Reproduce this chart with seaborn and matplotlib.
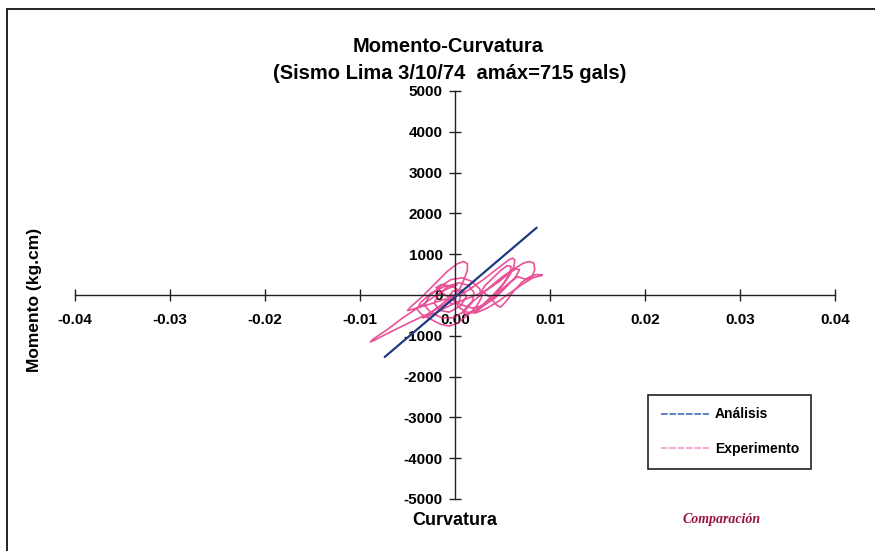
import numpy as np
import pandas as pd
import matplotlib
matplotlib.use("Agg")
import matplotlib.pyplot as plt
from matplotlib.lines import Line2D
import seaborn as sns

# Linear analysis: moment vs curvature (straight line through the origin)
analisis_curv = [-0.0074, 0.0086]
analisis_mom = [-1520, 1650]

# Measured hysteresis loops (curvature in 1e-3 units, moment in kg.cm)
exp_curv_milli = [
    # upper-left elongated loop
    -1.0, -3.0, -4.6, -5.0, -4.7, -3.5, -2.0, -0.8, 0.2, 0.9, 1.3, 1.3, 0.9, 0.5, 0.0,
    # large negative excursion
    -1.2, -3.0, -5.0, -7.0, -8.4, -8.9, -8.6, -7.2, -5.5, -3.8, -2.2, -0.8, 0.2,
    # dense cycles near the origin
    -1.0, -2.5, -3.6, -4.0, -3.5, -2.5, -1.5, -0.6, 0.2, 1.2, 2.2, 2.8, 2.6, 1.8,
    0.8, -0.4, -1.6, -2.8, -3.2, -2.6, -1.4, -0.2, 1.0, 1.8, 2.0, 1.4, 0.4, -0.8,
    -1.8, -2.2, -1.6, -0.6, 0.6, 1.2, 0.8, -0.2, -0.8, -0.4, 0.4, 0.6,
    # positive loops
    1.8, 3.0, 4.2, 5.2, 5.8, 6.1, 6.3, 6.2, 5.8, 5.0, 4.0, 3.0, 2.0, 1.2, 0.8,
    1.4, 2.6, 3.8, 5.0, 6.2, 7.2, 7.8, 8.3, 8.4, 8.1, 7.7, 7.2, 6.6, 5.6, 4.6,
    3.6, 2.6, 2.0, 2.4, 3.4, 4.4, 5.2, 5.8, 5.9, 5.5, 4.8, 4.0, 3.2, 2.8,
    3.6, 4.4, 4.8, 5.4, 6.2, 7.0, 7.8, 8.6, 9.2, 9.0, 8.2, 7.0, 5.8, 4.6, 3.4,
    2.2, 1.2, 0.4, 0.0, -0.3,
    # late cycles, decaying
    -1.5, -2.8, -3.4, -2.8, -1.6, 0.0, 1.6, 3.2, 4.6, 5.6, 6.4, 6.8, 6.4, 5.4,
    4.2, 3.0, 1.8, 0.6, -0.4, -1.4, -2.0, -1.4, -0.2, 0.8,
]
exp_mom = [
    -100, -250, -360, -380, -300, -50, 300, 580, 760, 820, 770, 600, 350, 150, 0,
    -250, -480, -700, -930, -1100, -1150, -1080, -860, -560, -300, -40, 150, 250,
    220, 50, -180, -350, -480, -600, -720, -760, -700, -520, -300, -60, 150, 330,
    420, 380, 200, -60, -250, -420, -560, -560, -400, -180, 60, 240, 300, 200,
    0, -200, -380, -420, -260, -40, 120, 100, -80, -220, -180, 0,
    180, 380, 600, 780, 880, 900, 860, 700, 500, 250, 0, -220, -400, -480, -420,
    -250, -20, 220, 450, 640, 780, 820, 780, 620, 450, 370, 400, 450, 280, 60,
    -150, -330, -430, -380, -180, 40, 300, 560, 700, 720, 600, 420, 240, 100,
    -40, -250, -300, -150, 100, 300, 440, 500, 490, 470, 420, 250, 50, -150, -320,
    -440, -420, -300, -150, 0,
    -250, -480, -560, -520, -380, -200, -60, 100, 320, 520, 640, 620, 450, 200,
    -80, -260, -320, -240, -100, 60, 180, 260, 200, 60,
]

x_ticks = [-0.04, -0.03, -0.02, -0.01, 0.0, 0.01, 0.02, 0.03, 0.04]
x_ticklabels = ["-0.04", "-0.03", "-0.02", "-0.01", "0.00", "0.01", "0.02", "0.03", "0.04"]
y_ticks = [-5000, -4000, -3000, -2000, -1000, 0, 1000, 2000, 3000, 4000, 5000]

sns.set_style("white")
plt.rcParams["font.family"] = ["Liberation Sans", "DejaVu Sans"]
plt.rcParams["axes.unicode_minus"] = False
plt.rcParams["text.color"] = "black"
plt.rcParams["xtick.color"] = "black"
plt.rcParams["ytick.color"] = "black"

df_an = pd.DataFrame({"curv": analisis_curv, "mom": analisis_mom})
df_ex = pd.DataFrame({"curv": np.array(exp_curv_milli) * 1e-3, "mom": exp_mom})

fig = plt.figure(figsize=(8.75, 5.51), dpi=100)
ax = fig.add_axes([0.0857, 0.0944, 0.8686, 0.7405])

sns.lineplot(data=df_ex, x="curv", y="mom", sort=False, estimator=None, ax=ax,
             color="#e4287f", lw=1.2, alpha=0.8, zorder=2)
sns.lineplot(data=df_an, x="curv", y="mom", sort=False, estimator=None, ax=ax,
             color="#1d3b80", lw=1.6, zorder=3)

ax.set_xlim(-0.04, 0.04)
ax.set_ylim(-5000, 5000)

# Axes crossing at the origin
for side in ("top", "right"):
    ax.spines[side].set_visible(False)
ax.spines["left"].set_position(("data", 0))
ax.spines["bottom"].set_position(("data", 0))
for side in ("left", "bottom"):
    ax.spines[side].set_color("#222222")
    ax.spines[side].set_linewidth(1.0)

ax.set_xticks(x_ticks)
ax.set_xticklabels(x_ticklabels)
ax.set_yticks(y_ticks)
ax.tick_params(axis="both", bottom=True, left=True, direction="inout", length=8,
               width=1.0, color="#222222", labelsize=11, labelcolor="black")
ax.tick_params(axis="x", pad=9)
ax.tick_params(axis="y", pad=5)
for lab in ax.get_xticklabels() + ax.get_yticklabels():
    lab.set_fontweight("bold")
ax.set_xlabel("")
ax.set_ylabel("")

fig.text(0.512, 0.915, "Momento-Curvatura", ha="center", va="center",
         fontsize=14.5, fontweight="bold")
fig.text(0.514, 0.867, "(Sismo Lima 3/10/74  amáx=715 gals)", ha="center", va="center",
         fontsize=14.5, fontweight="bold")
fig.text(0.04, 0.455, "Momento (kg.cm)", rotation=90, ha="center", va="center",
         fontsize=12.5, fontweight="bold")
fig.text(0.52, 0.055, "Curvatura", ha="center", va="center",
         fontsize=13, fontweight="bold")
fig.text(0.825, 0.058, "Comparación", ha="center", va="center", fontsize=10,
         fontweight="bold", fontstyle="italic", family="Liberation Serif",
         color="#9a1240")

handles = [Line2D([], [], color="#3f6fb5", lw=1.2, ls=(0, (4, 1))),
           Line2D([], [], color="#f49ad0", lw=1.2, ls=(0, (4, 1)))]
leg = ax.legend(handles, ["Análisis", "Experimento"], loc="upper left",
                bbox_to_anchor=(0.754, 0.255), frameon=True, fancybox=False,
                edgecolor="#222222", framealpha=1, fontsize=10, handlelength=3.5,
                labelspacing=1.5, borderpad=0.9, handletextpad=0.4, borderaxespad=0)
leg.get_frame().set_linewidth(1.2)
for t in leg.get_texts():
    t.set_fontweight("bold")

# Outer frame edges
fig.add_artist(Line2D([0.008, 1.0], [0.984, 0.984], transform=fig.transFigure,
                      color="#222222", lw=1.4))
fig.add_artist(Line2D([0.008, 0.008], [0.0, 0.984], transform=fig.transFigure,
                      color="#222222", lw=1.4))

fig.savefig("out.png", dpi=100)
